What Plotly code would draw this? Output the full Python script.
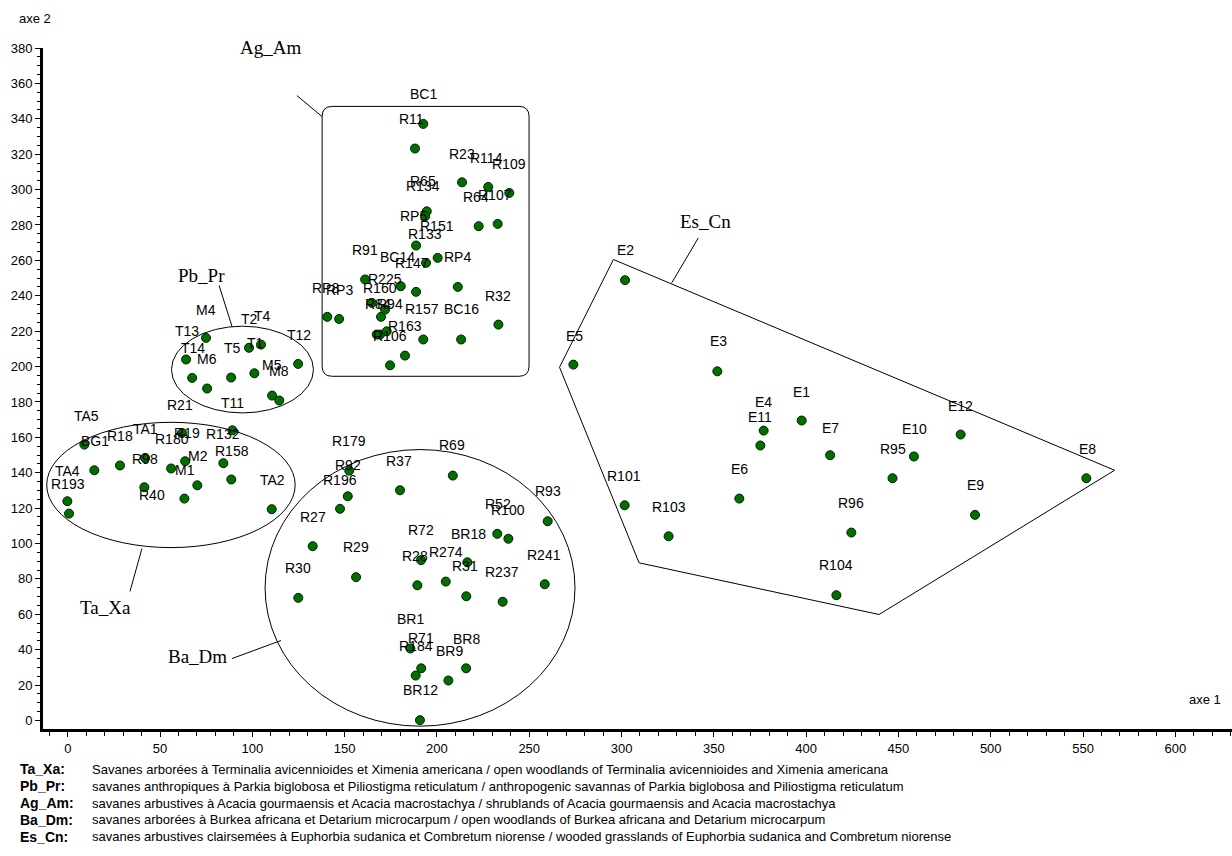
import plotly.graph_objects as go

# ---------------------------------------------------------------
# Relevé scores on factorial axes 1 and 2, one pair of lists per
# vegetation group
# ---------------------------------------------------------------
ta_xa_x = [89.2, 61.9, 9.0, 14.4, 28.3, 41.9, 56.0, 63.6, 70.2, 84.3, 88.6, 41.5, 63.2, -0.2, 0.7, 110.5]
ta_xa_y = [164.0, 162.5, 155.9, 141.4, 144.1, 148.4, 142.4, 146.5, 132.9, 145.4, 136.2, 131.8, 125.4, 123.9, 116.9, 119.4]

pb_pr_x = [74.9, 98.2, 104.7, 64.1, 124.8, 67.4, 88.5, 101.1, 75.5, 110.7, 114.6]
pb_pr_y = [216.2, 210.6, 212.4, 204.0, 201.5, 193.6, 193.8, 196.2, 187.6, 183.6, 180.8]

ag_am_x = [192.6, 188.1, 213.6, 227.8, 239.2, 194.5, 193.6, 222.6, 232.9, 188.7, 194.1, 200.4, 161.1, 180.4,
           188.7, 211.3, 233.3, 140.6, 147.0, 169.7, 171.9, 169.2, 172.8, 192.6, 213.1, 182.7, 174.6, 164.7, 167.4]
ag_am_y = [337.1, 323.2, 304.1, 301.5, 298.1, 287.7, 284.9, 279.3, 280.6, 268.4, 258.6, 261.4, 249.2, 245.4,
           242.2, 245.0, 223.7, 228.1, 226.9, 228.1, 232.2, 218.1, 219.9, 215.3, 215.3, 206.2, 200.7, 236.0, 218.1]

ba_dm_x = [152.5, 151.7, 147.5, 180.0, 208.6, 232.7, 238.7, 260.0, 132.7, 191.4, 216.5, 156.2, 124.9, 189.4,
           204.8, 215.9, 235.6, 258.4, 185.6, 191.5, 188.5, 215.8, 206.2, 190.8]
ba_dm_y = [141.2, 126.7, 119.6, 130.1, 138.4, 105.5, 102.7, 112.6, 98.5, 90.6, 89.4, 81.0, 69.3, 76.4,
           78.5, 70.2, 67.1, 77.0, 40.7, 29.5, 25.4, 29.5, 22.6, 0.2]

es_cn_x = [301.9, 273.9, 351.9, 397.6, 377.0, 375.2, 413.0, 301.7, 325.5, 363.8, 424.5, 416.4, 446.8, 458.4,
           483.7, 491.5, 551.8]
es_cn_y = [248.8, 201.1, 197.3, 169.5, 163.8, 155.4, 149.9, 121.6, 104.1, 125.4, 106.2, 70.8, 136.9, 149.2,
           161.6, 116.2, 136.9]

# Relevé codes and where each code is written
relevé_names = [
    "BC1", "R11", "R23", "R114", "R109", "R65", "R134", "R64", "R107", "RP5", "R151", "R133", "R91", "BC14",
    "R147", "RP4", "R225", "R160", "RP8", "RP3", "R84", "R94", "R157", "BC16", "R32", "R163", "R106",
    "M4", "T2", "T4", "T13", "T12", "T14", "T5", "T1", "M6", "M5", "M8", "R21", "T11",
    "TA5", "TA1", "R19", "R18", "BG1", "R180", "R132", "R98", "M2", "R158", "M1", "TA4", "R193", "R40", "TA2",
    "R179", "R69", "R92", "R37", "R196", "R93", "R52", "R100", "R27", "R72", "BR18", "R29", "R28", "R274",
    "R241", "R31", "R237", "R30", "BR1", "R71", "R184", "BR8", "BR9", "BR12",
    "E2", "E5", "E3", "E1", "E4", "E11", "E7", "R101", "R103", "E6", "R96", "R104", "R95", "E10", "E12", "E9", "E8",
]
label_x = [
    192.6, 186.4, 213.4, 227.0, 239.1, 192.6, 192.6, 221.0, 231.5, 187.2, 199.9, 193.6, 161.1, 178.5,
    186.4, 211.3, 171.9, 169.2, 139.4, 147.1, 168.1, 174.6, 191.8, 213.1, 233.3, 182.7, 174.6,
    74.9, 98.4, 105.4, 64.8, 125.5, 67.7, 89.2, 101.5, 75.6, 110.5, 114.6, 60.8, 89.2,
    9.9, 41.9, 64.5, 28.3, 14.8, 56.3, 84.3, 41.9, 70.7, 88.8, 63.5, 0.0, 0.3, 45.5, 111.1,
    152.5, 208.3, 152.0, 179.6, 147.5, 260.0, 232.9, 238.7, 132.7, 191.4, 217.0, 156.2, 188.1, 204.9,
    258.0, 215.2, 235.4, 124.9, 185.6, 191.4, 188.5, 216.1, 206.6, 191.2,
    302.3, 274.3, 352.4, 397.6, 377.0, 375.2, 413.0, 301.3, 325.5, 363.8, 424.5, 416.4, 446.8, 458.8, 483.7, 491.9, 552.2,
]
label_y = [
    354.2, 339.9, 320.3, 317.9, 314.7, 305.1, 301.9, 295.9, 296.8, 285.3, 279.3, 275.1, 265.7, 262.0,
    258.6, 261.8, 249.2, 244.5, 244.5, 243.5, 235.6, 235.6, 232.6, 232.6, 240.1, 223.2, 217.5,
    232.2, 226.9, 228.8, 220.3, 218.1, 210.6, 210.6, 213.4, 204.0, 200.6, 197.3, 178.1, 179.5,
    171.9, 165.0, 162.5, 160.6, 157.8, 158.8, 162.1, 147.9, 149.7, 152.5, 141.4, 140.8, 133.7, 127.7, 135.8,
    158.2, 155.4, 144.1, 146.9, 135.8, 129.5, 122.6, 119.2, 115.1, 107.5, 105.6, 98.1, 93.2, 95.1,
    93.8, 87.2, 84.0, 85.9, 57.5, 46.7, 42.0, 46.2, 39.5, 17.1,
    265.7, 217.5, 214.3, 185.7, 179.8, 171.4, 165.4, 138.0, 120.7, 142.2, 123.0, 87.6, 153.5, 165.0, 177.6, 132.8, 153.5,
]

# Group outlines
ta_xa_box = dict(x0=-11.4, x1=123.2, y0=97.7, y1=168.5)
pb_pr_box = dict(x0=56.2, x1=133.1, y0=173.8, y1=222.8)
ba_dm_box = dict(x0=106.9, x1=274.8, y0=-3.2, y1=153.1)
ag_am_box = dict(x0=137.8, x1=249.9, y0=194.5, y1=347.0)
es_cn_hull_x = [295.6, 567.1, 439.5, 309.5, 266.4]
es_cn_hull_y = [260.5, 141.4, 59.9, 89.1, 199.6]

# Group names with their leader lines
group_names = ["Ag_Am", "Pb_Pr", "Ta_Xa", "Ba_Dm", "Es_Cn"]
group_label_x = [109.7, 72.3, 20.2, 70.1, 345.3]
group_label_y = [380.2, 251.4, 63.8, 36.2, 281.9]
leader_x0 = [124.2, 82.0, 40.2, 89.0, 327.2]
leader_y0 = [353.1, 245.8, 97.2, 35.0, 247.3]
leader_x1 = [137.8, 89.0, 33.7, 115.5, 341.6]
leader_y1 = [341.2, 222.6, 72.9, 45.2, 272.7]

# Key to the group codes
key_codes = ["Ta_Xa:", "Pb_Pr:", "Ag_Am:", "Ba_Dm:", "Es_Cn:"]
key_texts = [
    "Savanes arborées à Terminalia avicennioides et Ximenia americana / open woodlands of Terminalia avicennioides and Ximenia americana",
    "savanes anthropiques à Parkia biglobosa et Piliostigma reticulatum / anthropogenic savannas of Parkia biglobosa and Piliostigma reticulatum",
    "savanes arbustives à Acacia gourmaensis et Acacia macrostachya / shrublands of Acacia gourmaensis and Acacia macrostachya",
    "savanes arborées à Burkea africana et Detarium microcarpum / open woodlands of Burkea africana and Detarium microcarpum",
    "savanes arbustives clairsemées à Euphorbia sudanica et Combretum niorense / wooded grasslands of Euphorbia sudanica and Combretum niorense",
]

X_RANGE = [-13.4, 630.7]
Y_RANGE = [-4.8, 380.0]
W, H = 1232, 856
ML, MR, MT, MB = 43, 0, 48, 126.5
SANS = "Liberation Sans, Arial, sans-serif"
SERIF = "Liberation Serif, Times New Roman, serif"


def paper_x(px):
    return (px - ML) / (W - ML - MR)


def paper_y(py):
    return (H - MB - py) / (H - MT - MB)


def data_to_paper_x(v):
    return (v - X_RANGE[0]) / (X_RANGE[1] - X_RANGE[0])


def data_to_paper_y(v):
    return (v - Y_RANGE[0]) / (Y_RANGE[1] - Y_RANGE[0])


fig = go.Figure()

marker = dict(size=9, color="#006f00", line=dict(color="#002000", width=1))
for gx, gy in [(ta_xa_x, ta_xa_y), (pb_pr_x, pb_pr_y), (ag_am_x, ag_am_y),
               (ba_dm_x, ba_dm_y), (es_cn_x, es_cn_y)]:
    fig.add_trace(go.Scatter(x=gx, y=gy, mode="markers", marker=marker,
                             showlegend=False, hoverinfo="x+y", cliponaxis=False))

line_style = dict(color="black", width=1)

# ellipses
for box in (ta_xa_box, pb_pr_box, ba_dm_box):
    fig.add_shape(type="circle", xref="x", yref="y", line=line_style, **box)

# rounded rectangle
b = ag_am_box
rx, ry = 5.5, 5.7
path = (f"M {b['x0'] + rx},{b['y1']} L {b['x1'] - rx},{b['y1']} "
        f"Q {b['x1']},{b['y1']} {b['x1']},{b['y1'] - ry} "
        f"L {b['x1']},{b['y0'] + ry} Q {b['x1']},{b['y0']} {b['x1'] - rx},{b['y0']} "
        f"L {b['x0'] + rx},{b['y0']} Q {b['x0']},{b['y0']} {b['x0']},{b['y0'] + ry} "
        f"L {b['x0']},{b['y1'] - ry} Q {b['x0']},{b['y1']} {b['x0'] + rx},{b['y1']} Z")
fig.add_shape(type="path", path=path, xref="x", yref="y", line=line_style)

# convex hull of the Es_Cn relevés
hull = "M " + " L ".join(f"{x},{y}" for x, y in zip(es_cn_hull_x, es_cn_hull_y)) + " Z"
fig.add_shape(type="path", path=hull, xref="x", yref="y", line=line_style)

# leader lines
for x0, y0, x1, y1 in zip(leader_x0, leader_y0, leader_x1, leader_y1):
    fig.add_shape(type="line", xref="x", yref="y", x0=x0, y0=y0, x1=x1, y1=y1, line=line_style)

annotations = []
for name, lx, ly in zip(relevé_names, label_x, label_y):
    annotations.append(dict(x=lx, y=ly, xref="x", yref="y", text=name, showarrow=False,
                            xanchor="center", yanchor="middle",
                            font=dict(family=SANS, size=14, color="black")))
# group names are placed in paper units so that one sitting on the top edge is still drawn
for name, gx, gy in zip(group_names, group_label_x, group_label_y):
    annotations.append(dict(x=data_to_paper_x(gx), y=data_to_paper_y(gy), xref="paper", yref="paper",
                            text=name, showarrow=False, xanchor="center", yanchor="middle",
                            font=dict(family=SERIF, size=19, color="black")))

# axis names
annotations.append(dict(x=paper_x(35), y=paper_y(18), xref="paper", yref="paper", text="axe 2",
                        showarrow=False, xanchor="center", yanchor="middle",
                        font=dict(family=SANS, size=13, color="black")))
annotations.append(dict(x=paper_x(1205), y=paper_y(700), xref="paper", yref="paper", text="axe 1",
                        showarrow=False, xanchor="center", yanchor="middle",
                        font=dict(family=SANS, size=13, color="black")))

# key
for i, (code, txt) in enumerate(zip(key_codes, key_texts)):
    py = 770 + i * 16.8
    annotations.append(dict(x=paper_x(18), y=paper_y(py), xref="paper", yref="paper",
                            text=f"<b>{code}</b>", showarrow=False, xanchor="left", yanchor="middle",
                            font=dict(family=SANS, size=14, color="black")))
    annotations.append(dict(x=paper_x(90), y=paper_y(py), xref="paper", yref="paper",
                            text=txt, showarrow=False, xanchor="left", yanchor="middle",
                            font=dict(family=SANS, size=13, color="black")))

axis_common = dict(showgrid=False, zeroline=False, showline=True, linecolor="black", linewidth=3,
                   ticks="outside", tickcolor="black", ticklen=5, tickwidth=1,
                   tickfont=dict(family=SANS, size=13, color="black"))

fig.update_layout(
    width=W, height=H,
    margin=dict(l=ML, r=MR, t=MT, b=MB),
    paper_bgcolor="white", plot_bgcolor="white",
    xaxis=dict(range=X_RANGE, tickmode="linear", tick0=0, dtick=50,
               minor=dict(dtick=10, ticks="outside", ticklen=4, tickcolor="black"),
               **axis_common),
    yaxis=dict(range=Y_RANGE, tickmode="linear", tick0=0, dtick=20,
               minor=dict(dtick=5, ticks="outside", ticklen=3, tickcolor="black"),
               **axis_common),
    annotations=annotations,
)

fig.write_html("out.html")
